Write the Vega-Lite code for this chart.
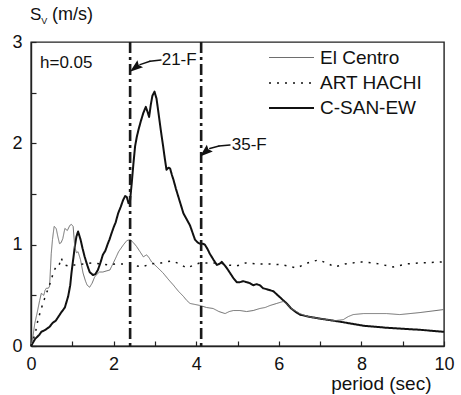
{
  "$schema": "https://vega.github.io/schema/vega-lite/v6.json",
  "width": 413,
  "height": 304,
  "autosize": {"type": "none"},
  "padding": {"left": 31, "top": 42, "right": 17, "bottom": 49},
  "background": "white",
  "config": {
    "font": "Liberation Sans",
    "view": {"stroke": "#222", "strokeWidth": 1.4},
    "axis": {
      "grid": false,
      "domainColor": "#222",
      "domainWidth": 1.4,
      "tickColor": "#222",
      "tickWidth": 1.2,
      "tickSize": -5,
      "labelFont": "Liberation Sans",
      "labelFontSize": 18,
      "labelColor": "#111",
      "titleFont": "Liberation Sans",
      "titleFontSize": 19,
      "titleFontWeight": "normal",
      "titleColor": "#111"
    },
    "legend": {
      "orient": "none",
      "legendX": 264,
      "legendY": 6,
      "title": null,
      "symbolType": "M-4,0H1",
      "symbolSize": 324,
      "labelFont": "Liberation Sans",
      "labelFontSize": 19,
      "labelColor": "#111",
      "labelOffset": 5,
      "rowPadding": 5
    }
  },
  "datasets": {
    "spectra": [
      {"series": "C-SAN-EW", "period": 0, "sv": 0},
      {"series": "C-SAN-EW", "period": 0.1, "sv": 0.07},
      {"series": "C-SAN-EW", "period": 0.2, "sv": 0.11},
      {"series": "C-SAN-EW", "period": 0.25, "sv": 0.14},
      {"series": "C-SAN-EW", "period": 0.35, "sv": 0.16},
      {"series": "C-SAN-EW", "period": 0.45, "sv": 0.19},
      {"series": "C-SAN-EW", "period": 0.53, "sv": 0.23},
      {"series": "C-SAN-EW", "period": 0.6, "sv": 0.25},
      {"series": "C-SAN-EW", "period": 0.73, "sv": 0.33},
      {"series": "C-SAN-EW", "period": 0.82, "sv": 0.38},
      {"series": "C-SAN-EW", "period": 0.9, "sv": 0.49},
      {"series": "C-SAN-EW", "period": 0.95, "sv": 0.6},
      {"series": "C-SAN-EW", "period": 0.98, "sv": 0.72},
      {"series": "C-SAN-EW", "period": 1.02, "sv": 0.85},
      {"series": "C-SAN-EW", "period": 1.06, "sv": 0.98},
      {"series": "C-SAN-EW", "period": 1.1, "sv": 1.08},
      {"series": "C-SAN-EW", "period": 1.14, "sv": 1.13},
      {"series": "C-SAN-EW", "period": 1.2, "sv": 1.05},
      {"series": "C-SAN-EW", "period": 1.25, "sv": 0.96},
      {"series": "C-SAN-EW", "period": 1.3, "sv": 0.88},
      {"series": "C-SAN-EW", "period": 1.36, "sv": 0.8},
      {"series": "C-SAN-EW", "period": 1.42, "sv": 0.73},
      {"series": "C-SAN-EW", "period": 1.5, "sv": 0.7},
      {"series": "C-SAN-EW", "period": 1.56, "sv": 0.71},
      {"series": "C-SAN-EW", "period": 1.62, "sv": 0.75},
      {"series": "C-SAN-EW", "period": 1.68, "sv": 0.82},
      {"series": "C-SAN-EW", "period": 1.74, "sv": 0.9},
      {"series": "C-SAN-EW", "period": 1.8, "sv": 0.94},
      {"series": "C-SAN-EW", "period": 1.86, "sv": 1.01},
      {"series": "C-SAN-EW", "period": 1.9, "sv": 1.05},
      {"series": "C-SAN-EW", "period": 1.94, "sv": 1.1},
      {"series": "C-SAN-EW", "period": 2.0, "sv": 1.17},
      {"series": "C-SAN-EW", "period": 2.05, "sv": 1.22},
      {"series": "C-SAN-EW", "period": 2.11, "sv": 1.31},
      {"series": "C-SAN-EW", "period": 2.17, "sv": 1.37},
      {"series": "C-SAN-EW", "period": 2.23, "sv": 1.44},
      {"series": "C-SAN-EW", "period": 2.28, "sv": 1.48},
      {"series": "C-SAN-EW", "period": 2.32, "sv": 1.47},
      {"series": "C-SAN-EW", "period": 2.36, "sv": 1.41},
      {"series": "C-SAN-EW", "period": 2.4, "sv": 1.44},
      {"series": "C-SAN-EW", "period": 2.44, "sv": 1.61},
      {"series": "C-SAN-EW", "period": 2.48, "sv": 1.8},
      {"series": "C-SAN-EW", "period": 2.52, "sv": 1.97},
      {"series": "C-SAN-EW", "period": 2.56, "sv": 2.06},
      {"series": "C-SAN-EW", "period": 2.6, "sv": 2.13},
      {"series": "C-SAN-EW", "period": 2.66, "sv": 2.22},
      {"series": "C-SAN-EW", "period": 2.72, "sv": 2.3},
      {"series": "C-SAN-EW", "period": 2.78, "sv": 2.36},
      {"series": "C-SAN-EW", "period": 2.83, "sv": 2.3},
      {"series": "C-SAN-EW", "period": 2.86, "sv": 2.26},
      {"series": "C-SAN-EW", "period": 2.9, "sv": 2.38},
      {"series": "C-SAN-EW", "period": 2.94, "sv": 2.47},
      {"series": "C-SAN-EW", "period": 2.99, "sv": 2.51},
      {"series": "C-SAN-EW", "period": 3.04, "sv": 2.44},
      {"series": "C-SAN-EW", "period": 3.08, "sv": 2.32},
      {"series": "C-SAN-EW", "period": 3.12, "sv": 2.2},
      {"series": "C-SAN-EW", "period": 3.16, "sv": 2.08},
      {"series": "C-SAN-EW", "period": 3.2, "sv": 1.97},
      {"series": "C-SAN-EW", "period": 3.24, "sv": 1.85},
      {"series": "C-SAN-EW", "period": 3.28, "sv": 1.74},
      {"series": "C-SAN-EW", "period": 3.33, "sv": 1.76},
      {"series": "C-SAN-EW", "period": 3.37, "sv": 1.75},
      {"series": "C-SAN-EW", "period": 3.41, "sv": 1.69},
      {"series": "C-SAN-EW", "period": 3.45, "sv": 1.64},
      {"series": "C-SAN-EW", "period": 3.51, "sv": 1.55},
      {"series": "C-SAN-EW", "period": 3.57, "sv": 1.47},
      {"series": "C-SAN-EW", "period": 3.63, "sv": 1.39},
      {"series": "C-SAN-EW", "period": 3.69, "sv": 1.31},
      {"series": "C-SAN-EW", "period": 3.77, "sv": 1.25},
      {"series": "C-SAN-EW", "period": 3.85, "sv": 1.19},
      {"series": "C-SAN-EW", "period": 3.91, "sv": 1.12},
      {"series": "C-SAN-EW", "period": 3.97, "sv": 1.05},
      {"series": "C-SAN-EW", "period": 4.04, "sv": 1.02},
      {"series": "C-SAN-EW", "period": 4.09, "sv": 1.01},
      {"series": "C-SAN-EW", "period": 4.16, "sv": 1.01},
      {"series": "C-SAN-EW", "period": 4.21, "sv": 1.0},
      {"series": "C-SAN-EW", "period": 4.27, "sv": 0.96},
      {"series": "C-SAN-EW", "period": 4.33, "sv": 0.91},
      {"series": "C-SAN-EW", "period": 4.42, "sv": 0.85},
      {"series": "C-SAN-EW", "period": 4.5, "sv": 0.8},
      {"series": "C-SAN-EW", "period": 4.56, "sv": 0.81},
      {"series": "C-SAN-EW", "period": 4.62, "sv": 0.83},
      {"series": "C-SAN-EW", "period": 4.68, "sv": 0.8},
      {"series": "C-SAN-EW", "period": 4.74, "sv": 0.77},
      {"series": "C-SAN-EW", "period": 4.82, "sv": 0.72},
      {"series": "C-SAN-EW", "period": 4.9, "sv": 0.67},
      {"series": "C-SAN-EW", "period": 4.98, "sv": 0.63},
      {"series": "C-SAN-EW", "period": 5.06, "sv": 0.63},
      {"series": "C-SAN-EW", "period": 5.14, "sv": 0.64},
      {"series": "C-SAN-EW", "period": 5.22, "sv": 0.63},
      {"series": "C-SAN-EW", "period": 5.3, "sv": 0.62},
      {"series": "C-SAN-EW", "period": 5.38, "sv": 0.6},
      {"series": "C-SAN-EW", "period": 5.46, "sv": 0.61},
      {"series": "C-SAN-EW", "period": 5.54, "sv": 0.6},
      {"series": "C-SAN-EW", "period": 5.62, "sv": 0.57},
      {"series": "C-SAN-EW", "period": 5.71, "sv": 0.56},
      {"series": "C-SAN-EW", "period": 5.79, "sv": 0.55},
      {"series": "C-SAN-EW", "period": 5.87, "sv": 0.54},
      {"series": "C-SAN-EW", "period": 5.95, "sv": 0.51},
      {"series": "C-SAN-EW", "period": 6.03, "sv": 0.48},
      {"series": "C-SAN-EW", "period": 6.11, "sv": 0.45},
      {"series": "C-SAN-EW", "period": 6.19, "sv": 0.42},
      {"series": "C-SAN-EW", "period": 6.3, "sv": 0.37},
      {"series": "C-SAN-EW", "period": 6.43, "sv": 0.33},
      {"series": "C-SAN-EW", "period": 6.51, "sv": 0.31},
      {"series": "C-SAN-EW", "period": 6.71, "sv": 0.29},
      {"series": "C-SAN-EW", "period": 7.0, "sv": 0.27},
      {"series": "C-SAN-EW", "period": 7.48, "sv": 0.24},
      {"series": "C-SAN-EW", "period": 8.05, "sv": 0.2},
      {"series": "C-SAN-EW", "period": 8.61, "sv": 0.18},
      {"series": "C-SAN-EW", "period": 9.0, "sv": 0.17},
      {"series": "C-SAN-EW", "period": 9.42, "sv": 0.16},
      {"series": "C-SAN-EW", "period": 10, "sv": 0.14},

      {"series": "El Centro", "period": 0, "sv": 0},
      {"series": "El Centro", "period": 0.05, "sv": 0.1},
      {"series": "El Centro", "period": 0.09, "sv": 0.22},
      {"series": "El Centro", "period": 0.15, "sv": 0.33},
      {"series": "El Centro", "period": 0.21, "sv": 0.45},
      {"series": "El Centro", "period": 0.25, "sv": 0.52},
      {"series": "El Centro", "period": 0.28, "sv": 0.51},
      {"series": "El Centro", "period": 0.31, "sv": 0.5},
      {"series": "El Centro", "period": 0.34, "sv": 0.55},
      {"series": "El Centro", "period": 0.37, "sv": 0.57},
      {"series": "El Centro", "period": 0.42, "sv": 0.57},
      {"series": "El Centro", "period": 0.45, "sv": 0.59},
      {"series": "El Centro", "period": 0.47, "sv": 0.75},
      {"series": "El Centro", "period": 0.49, "sv": 0.91},
      {"series": "El Centro", "period": 0.52, "sv": 1.05},
      {"series": "El Centro", "period": 0.56, "sv": 1.18},
      {"series": "El Centro", "period": 0.61, "sv": 1.16},
      {"series": "El Centro", "period": 0.65, "sv": 1.08},
      {"series": "El Centro", "period": 0.69, "sv": 1.01},
      {"series": "El Centro", "period": 0.73, "sv": 1.02},
      {"series": "El Centro", "period": 0.77, "sv": 1.06},
      {"series": "El Centro", "period": 0.82, "sv": 1.16},
      {"series": "El Centro", "period": 0.88, "sv": 1.14},
      {"series": "El Centro", "period": 0.94, "sv": 1.19},
      {"series": "El Centro", "period": 0.98, "sv": 1.2},
      {"series": "El Centro", "period": 1.02, "sv": 1.18},
      {"series": "El Centro", "period": 1.06, "sv": 0.98},
      {"series": "El Centro", "period": 1.1, "sv": 0.92},
      {"series": "El Centro", "period": 1.14, "sv": 0.93},
      {"series": "El Centro", "period": 1.2, "sv": 0.85},
      {"series": "El Centro", "period": 1.26, "sv": 0.72},
      {"series": "El Centro", "period": 1.32, "sv": 0.64},
      {"series": "El Centro", "period": 1.36, "sv": 0.6},
      {"series": "El Centro", "period": 1.42, "sv": 0.58},
      {"series": "El Centro", "period": 1.48, "sv": 0.62},
      {"series": "El Centro", "period": 1.54, "sv": 0.68},
      {"series": "El Centro", "period": 1.6, "sv": 0.71},
      {"series": "El Centro", "period": 1.66, "sv": 0.73},
      {"series": "El Centro", "period": 1.74, "sv": 0.73},
      {"series": "El Centro", "period": 1.82, "sv": 0.74},
      {"series": "El Centro", "period": 1.91, "sv": 0.75},
      {"series": "El Centro", "period": 1.97, "sv": 0.8},
      {"series": "El Centro", "period": 2.03, "sv": 0.85},
      {"series": "El Centro", "period": 2.12, "sv": 0.93},
      {"series": "El Centro", "period": 2.24, "sv": 1.0},
      {"series": "El Centro", "period": 2.32, "sv": 1.04},
      {"series": "El Centro", "period": 2.4, "sv": 1.05},
      {"series": "El Centro", "period": 2.48, "sv": 1.02},
      {"series": "El Centro", "period": 2.56, "sv": 0.98},
      {"series": "El Centro", "period": 2.64, "sv": 0.93},
      {"series": "El Centro", "period": 2.72, "sv": 0.88},
      {"series": "El Centro", "period": 2.8, "sv": 0.9},
      {"series": "El Centro", "period": 2.86, "sv": 0.87},
      {"series": "El Centro", "period": 2.92, "sv": 0.83},
      {"series": "El Centro", "period": 3.05, "sv": 0.78},
      {"series": "El Centro", "period": 3.2, "sv": 0.72},
      {"series": "El Centro", "period": 3.32, "sv": 0.66},
      {"series": "El Centro", "period": 3.45, "sv": 0.6},
      {"series": "El Centro", "period": 3.57, "sv": 0.54},
      {"series": "El Centro", "period": 3.69, "sv": 0.49},
      {"series": "El Centro", "period": 3.77, "sv": 0.45},
      {"series": "El Centro", "period": 3.85, "sv": 0.42},
      {"series": "El Centro", "period": 3.97, "sv": 0.41},
      {"series": "El Centro", "period": 4.09, "sv": 0.4},
      {"series": "El Centro", "period": 4.25, "sv": 0.38},
      {"series": "El Centro", "period": 4.41, "sv": 0.37},
      {"series": "El Centro", "period": 4.55, "sv": 0.34},
      {"series": "El Centro", "period": 4.7, "sv": 0.32},
      {"series": "El Centro", "period": 4.8, "sv": 0.34},
      {"series": "El Centro", "period": 4.9, "sv": 0.35},
      {"series": "El Centro", "period": 5.06, "sv": 0.35},
      {"series": "El Centro", "period": 5.22, "sv": 0.34},
      {"series": "El Centro", "period": 5.38, "sv": 0.35},
      {"series": "El Centro", "period": 5.54, "sv": 0.37},
      {"series": "El Centro", "period": 5.67, "sv": 0.38},
      {"series": "El Centro", "period": 5.79, "sv": 0.4},
      {"series": "El Centro", "period": 5.95, "sv": 0.42},
      {"series": "El Centro", "period": 6.03, "sv": 0.43},
      {"series": "El Centro", "period": 6.11, "sv": 0.44},
      {"series": "El Centro", "period": 6.2, "sv": 0.41},
      {"series": "El Centro", "period": 6.3, "sv": 0.37},
      {"series": "El Centro", "period": 6.43, "sv": 0.34},
      {"series": "El Centro", "period": 6.51, "sv": 0.32},
      {"series": "El Centro", "period": 6.71, "sv": 0.29},
      {"series": "El Centro", "period": 7.0, "sv": 0.27},
      {"series": "El Centro", "period": 7.36, "sv": 0.25},
      {"series": "El Centro", "period": 7.56, "sv": 0.26},
      {"series": "El Centro", "period": 7.68, "sv": 0.29},
      {"series": "El Centro", "period": 7.8, "sv": 0.31},
      {"series": "El Centro", "period": 8.05, "sv": 0.32},
      {"series": "El Centro", "period": 8.61, "sv": 0.32},
      {"series": "El Centro", "period": 8.93, "sv": 0.31},
      {"series": "El Centro", "period": 9.42, "sv": 0.33},
      {"series": "El Centro", "period": 10, "sv": 0.36},

      {"series": "ART HACHI", "period": 0, "sv": 0},
      {"series": "ART HACHI", "period": 0.1, "sv": 0.12},
      {"series": "ART HACHI", "period": 0.17, "sv": 0.26},
      {"series": "ART HACHI", "period": 0.25, "sv": 0.37},
      {"series": "ART HACHI", "period": 0.33, "sv": 0.47},
      {"series": "ART HACHI", "period": 0.41, "sv": 0.56},
      {"series": "ART HACHI", "period": 0.49, "sv": 0.65},
      {"series": "ART HACHI", "period": 0.55, "sv": 0.74},
      {"series": "ART HACHI", "period": 0.61, "sv": 0.78},
      {"series": "ART HACHI", "period": 0.67, "sv": 0.78},
      {"series": "ART HACHI", "period": 0.73, "sv": 0.87},
      {"series": "ART HACHI", "period": 0.78, "sv": 0.82},
      {"series": "ART HACHI", "period": 0.82, "sv": 0.8},
      {"series": "ART HACHI", "period": 0.9, "sv": 0.79},
      {"series": "ART HACHI", "period": 1.0, "sv": 0.8},
      {"series": "ART HACHI", "period": 1.1, "sv": 0.8},
      {"series": "ART HACHI", "period": 1.3, "sv": 0.81},
      {"series": "ART HACHI", "period": 1.5, "sv": 0.82},
      {"series": "ART HACHI", "period": 1.7, "sv": 0.81},
      {"series": "ART HACHI", "period": 1.86, "sv": 0.8},
      {"series": "ART HACHI", "period": 2.05, "sv": 0.81},
      {"series": "ART HACHI", "period": 2.24, "sv": 0.81},
      {"series": "ART HACHI", "period": 2.45, "sv": 0.8},
      {"series": "ART HACHI", "period": 2.68, "sv": 0.78},
      {"series": "ART HACHI", "period": 2.9, "sv": 0.81},
      {"series": "ART HACHI", "period": 3.15, "sv": 0.82},
      {"series": "ART HACHI", "period": 3.41, "sv": 0.84},
      {"series": "ART HACHI", "period": 3.6, "sv": 0.81},
      {"series": "ART HACHI", "period": 3.77, "sv": 0.77},
      {"series": "ART HACHI", "period": 3.95, "sv": 0.8},
      {"series": "ART HACHI", "period": 4.09, "sv": 0.82},
      {"series": "ART HACHI", "period": 4.3, "sv": 0.82},
      {"series": "ART HACHI", "period": 4.58, "sv": 0.82},
      {"series": "ART HACHI", "period": 4.75, "sv": 0.8},
      {"series": "ART HACHI", "period": 4.98, "sv": 0.79},
      {"series": "ART HACHI", "period": 5.2, "sv": 0.82},
      {"series": "ART HACHI", "period": 5.5, "sv": 0.81},
      {"series": "ART HACHI", "period": 5.79, "sv": 0.81},
      {"series": "ART HACHI", "period": 6.1, "sv": 0.8},
      {"series": "ART HACHI", "period": 6.43, "sv": 0.77},
      {"series": "ART HACHI", "period": 6.7, "sv": 0.82},
      {"series": "ART HACHI", "period": 6.96, "sv": 0.85},
      {"series": "ART HACHI", "period": 7.15, "sv": 0.82},
      {"series": "ART HACHI", "period": 7.36, "sv": 0.78},
      {"series": "ART HACHI", "period": 7.6, "sv": 0.81},
      {"series": "ART HACHI", "period": 7.97, "sv": 0.83},
      {"series": "ART HACHI", "period": 8.3, "sv": 0.82},
      {"series": "ART HACHI", "period": 8.77, "sv": 0.78},
      {"series": "ART HACHI", "period": 9.1, "sv": 0.81},
      {"series": "ART HACHI", "period": 9.42, "sv": 0.82},
      {"series": "ART HACHI", "period": 10, "sv": 0.83}
    ],
    "floors": [
      {"floor": "21-F", "period": 2.4},
      {"floor": "35-F", "period": 4.12}
    ]
  },
  "layer": [
    {
      "data": {"name": "spectra"},
      "mark": {"type": "line", "strokeCap": "butt", "strokeJoin": "round"},
      "encoding": {
        "x": {
          "field": "period",
          "type": "quantitative",
          "scale": {"domain": [0, 10], "nice": false, "zero": false},
          "axis": {
            "values": [0, 1, 2, 3, 4, 5, 6, 7, 8, 9, 10],
            "labelExpr": "datum.value % 2 === 0 ? format(datum.value, 'd') : ''",
            "labelPadding": 14,
            "labelFlush": false,
            "title": "period (sec)",
            "titleAnchor": "start",
            "titleAlign": "right",
            "titleX": 400,
            "titleY": 28,
            "titleBaseline": "top"
          }
        },
        "y": {
          "field": "sv",
          "type": "quantitative",
          "scale": {"domain": [0, 3], "nice": false},
          "axis": {
            "values": [0, 0.5, 1, 1.5, 2, 2.5, 3],
            "labelExpr": "datum.value % 1 === 0 ? format(datum.value, 'd') : ''",
            "labelPadding": 14,
            "labelFlush": false,
            "title": null
          }
        },
        "color": {
          "field": "series",
          "type": "nominal",
          "scale": {"domain": ["El Centro", "ART HACHI", "C-SAN-EW"], "range": ["#6e6e6e", "#111111", "#111111"]}
        },
        "strokeDash": {
          "field": "series",
          "type": "nominal",
          "scale": {"domain": ["El Centro", "ART HACHI", "C-SAN-EW"], "range": [[1, 0], [2, 6], [1, 0]]}
        },
        "strokeWidth": {
          "field": "series",
          "type": "nominal",
          "scale": {"domain": ["El Centro", "ART HACHI", "C-SAN-EW"], "range": [1, 2, 2.3]}
        }
      }
    },
    {
      "data": {"name": "floors"},
      "mark": {"type": "rule", "color": "#1a1a1a", "strokeWidth": 2.6, "strokeDash": [11, 4, 3, 4]},
      "encoding": {"x": {"field": "period", "type": "quantitative"}}
    },
    {
      "data": {"values": [{}]},
      "mark": {"type": "rule", "color": "#111", "strokeWidth": 1.4, "strokeCap": "round"},
      "encoding": {
        "x": {"datum": 3.148, "type": "quantitative"},
        "y": {"datum": 2.822, "type": "quantitative"},
        "x2": {"datum": 2.881},
        "y2": {"datum": 2.81}
      }
    },
    {
      "data": {"values": [{}]},
      "mark": {"type": "rule", "color": "#111", "strokeWidth": 1.4, "strokeCap": "round"},
      "encoding": {
        "x": {"datum": 2.881, "type": "quantitative"},
        "y": {"datum": 2.81, "type": "quantitative"},
        "x2": {"datum": 2.639},
        "y2": {"datum": 2.777}
      }
    },
    {
      "data": {"values": [{}]},
      "mark": {"type": "rule", "color": "#111", "strokeWidth": 1.4, "strokeCap": "round"},
      "encoding": {
        "x": {"datum": 4.818, "type": "quantitative"},
        "y": {"datum": 1.984, "type": "quantitative"},
        "x2": {"datum": 4.552},
        "y2": {"datum": 1.974}
      }
    },
    {
      "data": {"values": [{}]},
      "mark": {"type": "rule", "color": "#111", "strokeWidth": 1.4, "strokeCap": "round"},
      "encoding": {
        "x": {"datum": 4.552, "type": "quantitative"},
        "y": {"datum": 1.974, "type": "quantitative"},
        "x2": {"datum": 4.329},
        "y2": {"datum": 1.949}
      }
    },
    {
      "data": {"values": [{}]},
      "mark": {"type": "point", "shape": "M-1,0L1,-0.7L0.7,0L1,0.7Z", "filled": true, "color": "#111", "size": 169, "opacity": 1, "angle": -38},
      "encoding": {
        "x": {"datum": 2.521, "type": "quantitative"},
        "y": {"datum": 2.746, "type": "quantitative"}
      }
    },
    {
      "data": {"values": [{}]},
      "mark": {"type": "point", "shape": "M-1,0L1,-0.7L0.7,0L1,0.7Z", "filled": true, "color": "#111", "size": 169, "opacity": 1, "angle": -41},
      "encoding": {
        "x": {"datum": 4.211, "type": "quantitative"},
        "y": {"datum": 1.911, "type": "quantitative"}
      }
    },
    {
      "data": {"values": [{}]},
      "mark": {"type": "text", "text": "21-F", "align": "left", "baseline": "middle", "fontSize": 17, "color": "#111", "font": "Liberation Sans"},
      "encoding": {
        "x": {"datum": 3.165, "type": "quantitative"},
        "y": {"datum": 2.822, "type": "quantitative"}
      }
    },
    {
      "data": {"values": [{}]},
      "mark": {"type": "text", "text": "35-F", "align": "left", "baseline": "middle", "fontSize": 17, "color": "#111", "font": "Liberation Sans"},
      "encoding": {
        "x": {"datum": 4.86, "type": "quantitative"},
        "y": {"datum": 1.984, "type": "quantitative"}
      }
    },
    {
      "data": {"values": [{}]},
      "mark": {"type": "text", "text": "h=0.05", "align": "left", "baseline": "middle", "fontSize": 17, "color": "#111", "font": "Liberation Sans"},
      "encoding": {
        "x": {"datum": 0.218, "type": "quantitative"},
        "y": {"datum": 2.793, "type": "quantitative"}
      }
    },
    {
      "data": {"values": [{}]},
      "mark": {"type": "text", "text": "S", "align": "left", "baseline": "middle", "fontSize": 17, "color": "#111", "font": "Liberation Sans"},
      "encoding": {
        "x": {"datum": -0.024, "type": "quantitative"},
        "y": {"datum": 3.262, "type": "quantitative"}
      }
    },
    {
      "data": {"values": [{}]},
      "mark": {"type": "text", "text": "V", "align": "left", "baseline": "middle", "fontSize": 9, "color": "#111", "font": "Liberation Sans"},
      "encoding": {
        "x": {"datum": 0.25, "type": "quantitative"},
        "y": {"datum": 3.207, "type": "quantitative"}
      }
    },
    {
      "data": {"values": [{}]},
      "mark": {"type": "text", "text": "(m/s)", "align": "left", "baseline": "middle", "fontSize": 18, "color": "#111", "font": "Liberation Sans"},
      "encoding": {
        "x": {"datum": 0.508, "type": "quantitative"},
        "y": {"datum": 3.262, "type": "quantitative"}
      }
    }
  ]
}
